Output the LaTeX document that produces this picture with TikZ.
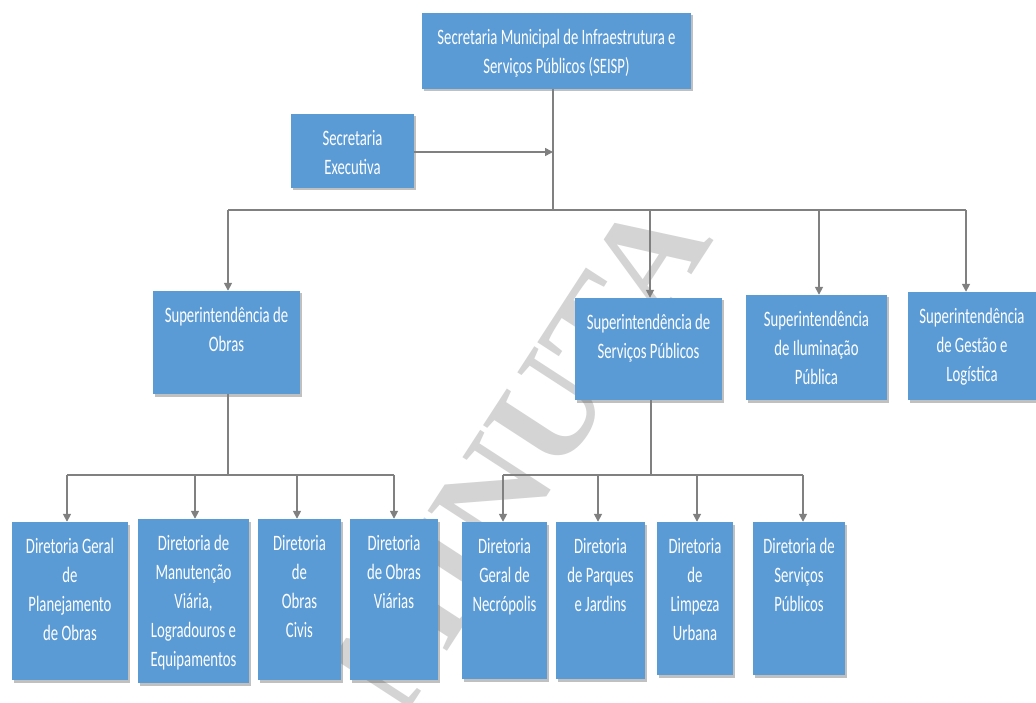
\documentclass[tikz,border=0pt]{standalone}
\usepackage{fontspec}
\setmainfont{Carlito}
\newfontfamily\cf[FakeStretch=0.67]{Carlito}
\newfontfamily\wmfont{Liberation Serif}
\usetikzlibrary{arrows.meta,shadows,positioning}
\definecolor{boxblue}{HTML}{5B9BD5}
\definecolor{linegray}{HTML}{808080}
\definecolor{wmgray}{HTML}{D4D4D4}
\tikzset{
  box/.style={fill=boxblue, draw=none, inner sep=0pt,
    drop shadow={shadow xshift=1.5pt, shadow yshift=-2.5pt, opacity=0.35, fill=black!70}},
  txt/.style={anchor=north, align=center, text=white, inner sep=0pt, yshift=-16pt,
    font=\cf\fontsize{22}{29}\selectfont, execute at begin node=\strut},
  conn/.style={draw=linegray, line width=1.6pt},
  arr/.style={conn, -{Triangle[width=8pt,length=8pt]}},
}
\begin{document}
\begin{tikzpicture}[x=1pt,y=-1pt]
\useasboundingbox[fill=white] (0,0) rectangle (1036,703);
% watermark
\node[text=wmgray, rotate=57, font=\wmfont\bfseries\fontsize{140}{140}\selectfont, inner sep=0pt] (wm) at (520,455) {MINUTA};
% boxes
\node[box, minimum width=269pt, minimum height=76pt] (top) at (556.5,51) {};
\node[box, minimum width=123pt, minimum height=74pt] (se) at (352.5,151) {};
\node[box, minimum width=147pt, minimum height=103pt] (so) at (226.5,342.5) {};
\node[box, minimum width=147pt, minimum height=102pt] (ss) at (648.5,349) {};
\node[box, minimum width=141pt, minimum height=105pt] (si) at (816.5,347.5) {};
\node[box, minimum width=128pt, minimum height=108pt] (sg) at (972,346) {};
\node[box, minimum width=116pt, minimum height=158pt] (d1) at (70,601) {};
\node[box, minimum width=111pt, minimum height=164pt] (d2) at (193.5,601) {};
\node[box, minimum width=83pt, minimum height=161pt] (d3) at (299.5,599.5) {};
\node[box, minimum width=88pt, minimum height=161pt] (d4) at (394,599.5) {};
\node[box, minimum width=85pt, minimum height=157pt] (d5) at (504.5,600.5) {};
\node[box, minimum width=89pt, minimum height=157pt] (d6) at (600.5,600.5) {};
\node[box, minimum width=76pt, minimum height=153pt] (d7) at (695,598.5) {};
\node[box, minimum width=92pt, minimum height=153pt] (d8) at (799,598.5) {};
% texts
\node[txt] (topt) at (top.north) {Secretaria Municipal de Infraestrutura e\\Serviços Públicos (SEISP)};
\node[txt] (set) at (se.north) {Secretaria\\Executiva};
\node[txt] (sot) at (so.north) {Superintendência de\\Obras};
\node[txt] (sst) at (ss.north) {Superintendência de\\Serviços Públicos};
\node[txt] (sit) at (si.north) {Superintendência\\de Iluminação\\Pública};
\node[txt] (sgt) at (sg.north) {Superintendência\\de Gestão e\\Logística};
\node[txt] (d1t) at (d1.north) {Diretoria Geral\\de\\Planejamento\\de Obras};
\node[txt] (d2t) at (d2.north) {Diretoria de\\Manutenção\\Viária,\\Logradouros e\\Equipamentos};
\node[txt] (d3t) at (d3.north) {Diretoria\\de\\Obras\\Civis};
\node[txt] (d4t) at (d4.north) {Diretoria\\de Obras\\Viárias};
\node[txt] (d5t) at (d5.north) {Diretoria\\Geral de\\Necrópolis};
\node[txt] (d6t) at (d6.north) {Diretoria\\de Parques\\e Jardins};
\node[txt] (d7t) at (d7.north) {Diretoria\\de\\Limpeza\\Urbana};
\node[txt] (d8t) at (d8.north) {Diretoria de\\Serviços\\Públicos};
% junction coordinates
\coordinate (j1) at (553,210);
\coordinate (jl) at (228,210);
\coordinate (jss) at (650,210);
\coordinate (jsi) at (819,210);
\coordinate (jr) at (966,210);
\coordinate (jse) at (553,152);
\coordinate (j2) at (228,475);
\coordinate (j2l) at (67,475);
\coordinate (j2b) at (195,475);
\coordinate (j2c) at (297,475);
\coordinate (j2r) at (394,475);
\coordinate (j3) at (651,475);
\coordinate (j3l) at (503,475);
\coordinate (j3b) at (598,475);
\coordinate (j3c) at (697,475);
\coordinate (j3r) at (803,475);
% connectors
\draw[conn] (top.south -| j1) -- (j1);
\draw[conn] (jl) -- (jr);
\draw[arr] (se.east |- jse) -- (jse);
\draw[arr] (jl) -- (so.north -| jl);
\draw[arr] (jss) -- (ss.north -| jss);
\draw[arr] (jsi) -- (si.north -| jsi);
\draw[arr] (jr) -- (sg.north -| jr);
\draw[conn] (so.south -| j2) -- (j2);
\draw[conn] (j2l) -- (j2r);
\draw[arr] (j2l) -- (d1.north -| j2l);
\draw[arr] (j2b) -- (d2.north -| j2b);
\draw[arr] (j2c) -- (d3.north -| j2c);
\draw[arr] (j2r) -- (d4.north -| j2r);
\draw[conn] (ss.south -| j3) -- (j3);
\draw[conn] (j3l) -- (j3r);
\draw[arr] (j3l) -- (d5.north -| j3l);
\draw[arr] (j3b) -- (d6.north -| j3b);
\draw[arr] (j3c) -- (d7.north -| j3c);
\draw[arr] (j3r) -- (d8.north -| j3r);
\end{tikzpicture}
\end{document}
